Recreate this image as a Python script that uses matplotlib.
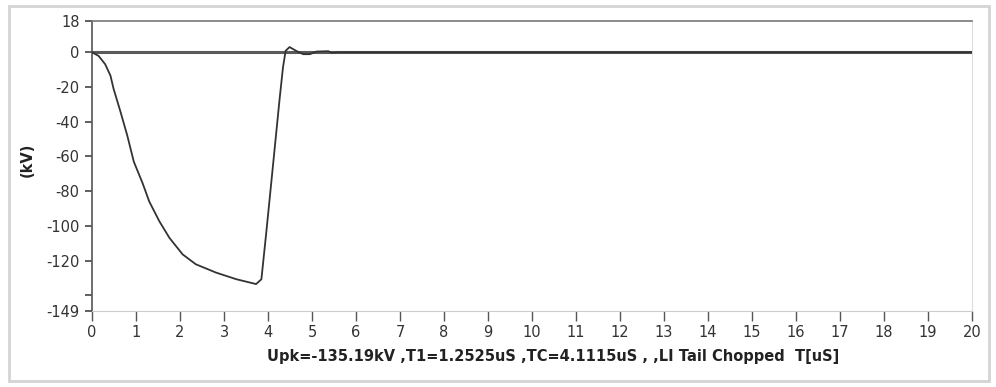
import matplotlib
matplotlib.use("Agg")
import matplotlib.pyplot as plt
from matplotlib.patches import Rectangle

# waveform samples (time in uS, voltage in kV)
time_us = [0.0, 0.15, 0.30, 0.42, 0.49, 0.65, 0.80, 0.95, 1.15, 1.30, 1.53, 1.76,
           2.06, 2.36, 2.82, 3.28, 3.73, 3.85, 3.96, 4.11, 4.26, 4.34, 4.40, 4.49,
           4.64, 4.80, 4.95, 5.10, 5.37, 5.45, 5.6, 20.0]
voltage_kv = [0.0, -2.1, -6.9, -13.5, -21.0, -34.5, -47.8, -63.0, -75.4, -85.9,
              -97.3, -106.9, -116.4, -122.1, -126.9, -130.7, -133.5, -130.7, -104.0,
              -66.0, -27.8, -8.8, 0.8, 3.0, 0.8, -1.1, -1.1, 0.4, 0.6, -0.3, 0.0, 0.0]

x_ticks = list(range(0, 21))
y_ticks = [18, 0, -20, -40, -60, -80, -100, -120, -140, -149]
y_tick_labels = ["18", "0", "-20", "-40", "-60", "-80", "-100", "-120", "", "-149"]
x_label = "Upk=-135.19kV ,T1=1.2525uS ,TC=4.1115uS , ,LI Tail Chopped  T[uS]"
y_label = "(kV)"

fig = plt.figure(figsize=(9.96, 3.87), dpi=100)
fig.patch.set_facecolor("white")

# outer panel frame
fig.patches.append(Rectangle((9 / 996, 6 / 387), 980 / 996, 375 / 387,
                             transform=fig.transFigure, fill=False,
                             edgecolor="#d4d4d4", linewidth=2))

ax = fig.add_axes([92 / 996, 1 - 311 / 387, 880 / 996, 290 / 387])
ax.set_xlim(0, 20)
ax.set_ylim(-149, 18)

ax.axhline(0, color="#5a5a5a", linewidth=2.2, zorder=2)
ax.plot(time_us, voltage_kv, color="#333333", linewidth=1.3, zorder=3)

ax.set_xticks(x_ticks)
ax.set_xticklabels([str(v) for v in x_ticks])
ax.set_yticks(y_ticks)
ax.set_yticklabels(y_tick_labels)

ax.tick_params(axis="x", direction="out", length=7, width=1, color="#555555",
               labelsize=10.5, labelcolor="#333333", pad=3)
ax.tick_params(axis="y", direction="out", length=5, width=1.2, color="#444444",
               labelsize=10.5, labelcolor="#333333", pad=4)

ax.spines["left"].set_color("#555555")
ax.spines["left"].set_linewidth(1.2)
ax.spines["top"].set_color("#777777")
ax.spines["top"].set_linewidth(1.2)
ax.spines["bottom"].set_color("#cccccc")
ax.spines["right"].set_color("#dddddd")

fig.text(27 / 996, 1 - 160 / 387, y_label, rotation=90, ha="center", va="center",
         fontsize=10.5, fontweight="bold", color="#222222")
fig.text(553 / 996, 1 - 357 / 387, x_label, ha="center", va="center",
         fontsize=10.5, fontweight="bold", color="#222222")

fig.savefig("out.png", dpi=100, facecolor="white")
